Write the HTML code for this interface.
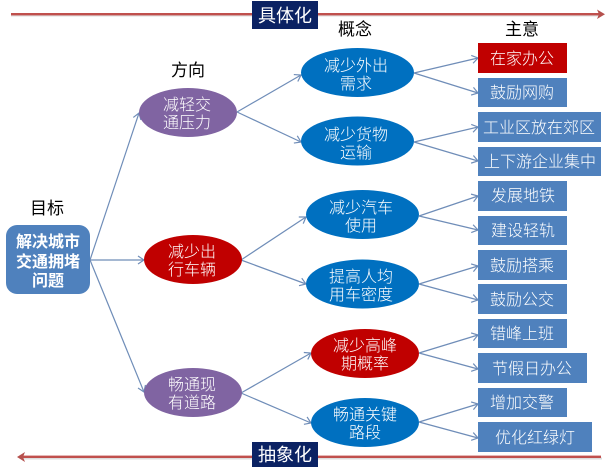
<!DOCTYPE html>
<html>
<head>
<meta charset="utf-8">
<style>
html,body{margin:0;padding:0;background:#fff;}
svg{display:block;}
text{font-family:"Liberation Sans","Noto Sans CJK SC",sans-serif;font-size:16px;text-anchor:middle;font-weight:300;}
.w{fill:#fff;}
.k{fill:#000;font-size:17px;font-weight:400;}
.h{font-size:18px;font-weight:400;}
.b{font-weight:bold;}
.c{stroke:#6f8db8;stroke-width:1.2;fill:none;marker-end:url(#a);}
</style>
</head>
<body>
<svg width="612" height="469" viewBox="0 0 612 469" xmlns="http://www.w3.org/2000/svg">
<defs>
<marker id="a" markerUnits="userSpaceOnUse" markerWidth="8" markerHeight="10" refX="7" refY="5" orient="auto">
<path d="M1 1L7 5L1 9" fill="none" stroke="#6f8db8" stroke-width="1.2"/>
</marker>
</defs>

<!-- top and bottom bars -->
<rect x="11" y="14.5" width="590" height="2" fill="#ddd"/>
<rect x="11" y="13" width="588" height="2.4" fill="#c0504d"/>
<path d="M597 9.5L605 14.2L597 19L599 14.2Z" fill="#b5504d"/>
<rect x="22" y="457.5" width="580" height="2" fill="#ddd"/>
<rect x="22" y="455.6" width="579" height="2.4" fill="#c0504d"/>
<path d="M25 452L17 457L25 462L23 457Z" fill="#b5504d"/>
<rect x="252" y="1" width="66" height="28" fill="#0b2263"/>
<rect x="252" y="442" width="66" height="25" fill="#0b2263"/>
<text class="w h" x="285" y="22">具体化</text>
<text class="w h" x="285" y="461">抽象化</text>

<!-- connectors -->
<path class="c" d="M90 260L139 113"/>
<path class="c" d="M90 260L144 260"/>
<path class="c" d="M90 260L144 392"/>
<path class="c" d="M237 112L301 75"/>
<path class="c" d="M237 112L301 142"/>
<path class="c" d="M241 260L306 217"/>
<path class="c" d="M241 260L306 284"/>
<path class="c" d="M241 393L311 353"/>
<path class="c" d="M241 393L311 423"/>
<path class="c" d="M414 73L478 58"/>
<path class="c" d="M414 73L478 93"/>
<path class="c" d="M414 142L478 127"/>
<path class="c" d="M414 142L478 161"/>
<path class="c" d="M419 216L478 196"/>
<path class="c" d="M419 216L478 230"/>
<path class="c" d="M419 284L478 266"/>
<path class="c" d="M419 284L478 300"/>
<path class="c" d="M419 353L478 335"/>
<path class="c" d="M419 353L478 369"/>
<path class="c" d="M419 422L478 404"/>
<path class="c" d="M419 422L478 438"/>

<!-- column headings -->
<text class="k" x="188" y="76">方向</text>
<text class="k" x="47" y="214">目标</text>
<text class="k" x="355" y="35">概念</text>
<text class="k" x="522" y="35">主意</text>

<!-- root -->
<rect x="6" y="225" width="84" height="69" rx="11" fill="#4f81bd"/>
<text class="w b" x="48" y="247" style="font-size:16px">解决城市</text>
<text class="w b" x="48" y="267" style="font-size:16px">交通拥堵</text>
<text class="w b" x="48" y="286" style="font-size:16px">问题</text>

<!-- level 1 -->
<ellipse cx="188" cy="112.5" rx="49" ry="24.5" fill="#8064a2"/>
<text class="w" x="187" y="110">减轻交</text><text class="w" x="187" y="128">通压力</text>
<ellipse cx="193" cy="259.5" rx="49" ry="24.5" fill="#c00000"/>
<text class="w" x="192" y="257">减少出</text><text class="w" x="192" y="275">行车辆</text>
<ellipse cx="193" cy="392.5" rx="49" ry="24.5" fill="#8064a2"/>
<text class="w" x="192" y="390">畅通现</text><text class="w" x="192" y="408">有道路</text>

<!-- level 2 -->
<ellipse cx="357.5" cy="72.5" rx="56.5" ry="24.5" fill="#0070c0"/>
<text class="w" x="356" y="71">减少外出</text><text class="w" x="356" y="89">需求</text>
<ellipse cx="357.5" cy="141" rx="56.5" ry="24.5" fill="#0070c0"/>
<text class="w" x="356" y="140">减少货物</text><text class="w" x="356" y="158">运输</text>
<ellipse cx="362.5" cy="214.5" rx="56.5" ry="24.5" fill="#0070c0"/>
<text class="w" x="361" y="213">减少汽车</text><text class="w" x="361" y="231">使用</text>
<ellipse cx="362.5" cy="284" rx="56.5" ry="24.5" fill="#0070c0"/>
<text class="w" x="361" y="282">提高人均</text><text class="w" x="361" y="300">用车密度</text>
<ellipse cx="365" cy="353.5" rx="54" ry="24.5" fill="#c00000"/>
<text class="w" x="365" y="351">减少高峰</text><text class="w" x="365" y="369">期概率</text>
<ellipse cx="365" cy="422.5" rx="54" ry="24.5" fill="#0070c0"/>
<text class="w" x="365" y="420">畅通关键</text><text class="w" x="365" y="438">路段</text>

<!-- level 3 -->
<rect x="478" y="43" width="89" height="30" fill="#c00000"/>
<text class="w" x="522" y="64">在家办公</text>
<rect x="478" y="78" width="89" height="29" fill="#4f81bd"/>
<text class="w" x="522" y="98">鼓励网购</text>
<rect x="478" y="112" width="123" height="30" fill="#4f81bd"/>
<text class="w" x="539" y="133">工业区放在郊区</text>
<rect x="478" y="147" width="123" height="29" fill="#4f81bd"/>
<text class="w" x="540" y="167">上下游企业集中</text>
<rect x="478" y="181" width="89" height="30" fill="#4f81bd"/>
<text class="w" x="523" y="201">发展地铁</text>
<rect x="478" y="216" width="89" height="29" fill="#4f81bd"/>
<text class="w" x="523" y="236">建设轻轨</text>
<rect x="478" y="250" width="89" height="30" fill="#4f81bd"/>
<text class="w" x="522" y="271">鼓励搭乘</text>
<rect x="478" y="284" width="89" height="30" fill="#4f81bd"/>
<text class="w" x="522" y="305">鼓励公交</text>
<rect x="478" y="319" width="89" height="29" fill="#4f81bd"/>
<text class="w" x="522" y="339">错峰上班</text>
<rect x="478" y="353" width="109" height="30" fill="#4f81bd"/>
<text class="w" x="532" y="374">节假日办公</text>
<rect x="478" y="388" width="89" height="29" fill="#4f81bd"/>
<text class="w" x="522" y="408">增加交警</text>
<rect x="478" y="422" width="114" height="30" fill="#4f81bd"/>
<text class="w" x="535" y="443">优化红绿灯</text>
</svg>
</body>
</html>
